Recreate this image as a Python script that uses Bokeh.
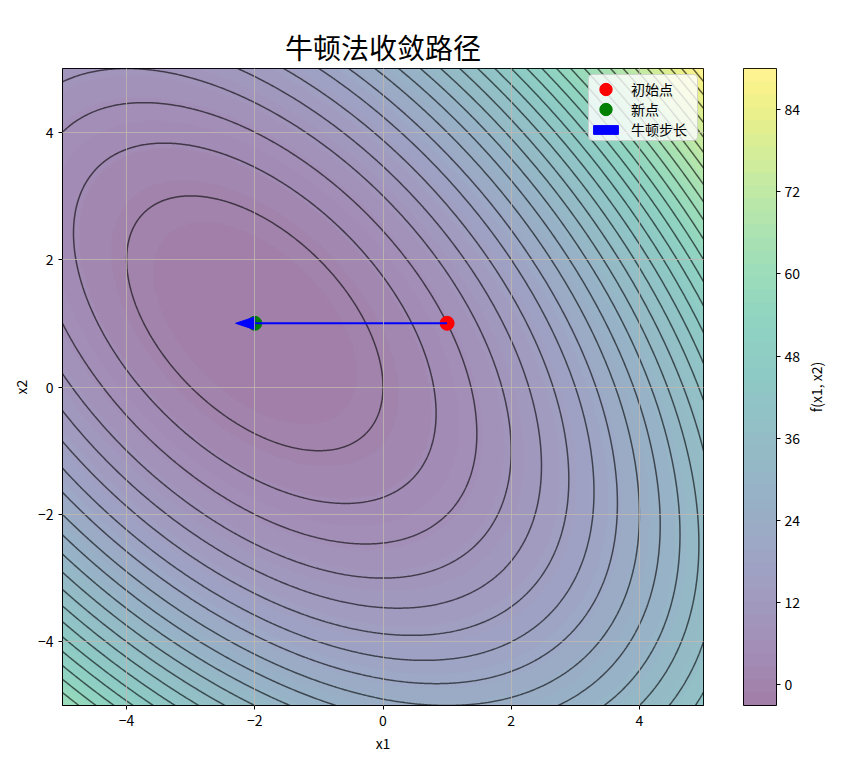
import numpy as np
from bokeh.plotting import figure
from bokeh.models import (Legend, LegendItem, FixedTicker, Range1d, BoxAnnotation,
                          LinearColorMapper, Title)
from bokeh.layouts import row
from bokeh.embed import file_html
from bokeh.resources import INLINE
from bokeh.palettes import Viridis256

FONT = "Noto Sans CJK SC"

# f(x1, x2) = a*x1^2 + b*x1*x2 + c*x2^2 + d*x1 + e*x2
quad_coefs = [1.0, 1.0, 1.0, 3.0, 0.0]
domain = [-5.0, 5.0]
initial_point = [1.0, 1.0]
new_point = [-2.0, 1.0]
fill_levels = np.linspace(-3.0, 90.0, 50)
line_levels = np.arange(0.0, 91.0, 3.0)
axis_ticks = [-4, -2, 0, 2, 4]
axis_tick_labels = ["−4", "−2", "0", "2", "4"]
cbar_ticks = [0, 12, 24, 36, 48, 60, 72, 84]
legend_labels = ["初始点", "新点", "牛顿步长"]
title_text = "牛顿法收敛路径"
x_label, y_label, cbar_label = "x1", "x2", "f(x1, x2)"

# surface
n = 500
gx = np.linspace(domain[0], domain[1], n)
gy = np.linspace(domain[0], domain[1], n)
X, Y = np.meshgrid(gx, gy)
a, b, c, d, e = quad_coefs
Z = a * X**2 + b * X * Y + c * Y**2 + d * X + e * Y

mids = (fill_levels[:-1] + fill_levels[1:]) / 2
tt = (mids - mids.min()) / (mids.max() - mids.min())
band_colors = [Viridis256[int(round(v * 255))] for v in tt]
mapper = LinearColorMapper(palette=band_colors, low=fill_levels[0], high=fill_levels[-1])

FW, FH = 641, 637
TOP, BOTTOM = 68, 48
p = figure(frame_width=FW, frame_height=FH,
           x_range=Range1d(domain[0], domain[1]), y_range=Range1d(domain[0], domain[1]),
           output_backend="svg", toolbar_location=None,
           min_border_left=62, min_border_right=17, min_border_top=TOP, min_border_bottom=BOTTOM,
           title=title_text)
p.title.align = "center"
p.title.text_font = FONT
p.title.text_font_size = "28px"
p.title.text_font_style = "normal"
p.title.text_color = "black"
p.title.standoff = 4

p.image(image=[Z], x=domain[0], y=domain[0], dw=domain[1] - domain[0], dh=domain[1] - domain[0],
        color_mapper=mapper, global_alpha=0.5)
p.contour(gx, gy, Z, line_levels, line_color="black", line_alpha=0.6, line_width=1.5)

r_init = p.scatter(x=[initial_point[0]], y=[initial_point[1]], size=14, color="red")
r_new = p.scatter(x=[new_point[0]], y=[new_point[1]], size=14, color="green")

# Newton step arrow
head_w, head_l = 0.2, 0.3
dx = new_point[0] - initial_point[0]
dy = new_point[1] - initial_point[1]
L = np.hypot(dx, dy)
ux, uy = dx / L, dy / L
px_, py_ = -uy, ux
tip = (new_point[0] + ux * head_l, new_point[1] + uy * head_l)
p.segment(x0=[initial_point[0]], y0=[initial_point[1]], x1=[new_point[0]], y1=[new_point[1]],
          line_color="blue", line_width=2)
r_step = p.patch(x=[new_point[0] + px_ * head_w / 2, new_point[0] - px_ * head_w / 2, tip[0]],
                 y=[new_point[1] + py_ * head_w / 2, new_point[1] - py_ * head_w / 2, tip[1]],
                 fill_color="blue", line_color="blue", line_width=1)

# axes
for ax in (p.xaxis, p.yaxis):
    ax.ticker = FixedTicker(ticks=axis_ticks)
    ax.major_label_overrides = {t: s for t, s in zip(axis_ticks, axis_tick_labels)}
    ax.major_label_text_font = FONT
    ax.major_label_text_font_size = "14px"
    ax.major_label_text_color = "black"
    ax.axis_label_text_font = FONT
    ax.axis_label_text_font_size = "14px"
    ax.axis_label_text_font_style = "normal"
    ax.axis_label_text_color = "black"
    ax.major_tick_in = 0
    ax.major_tick_out = 4
    ax.minor_tick_line_color = None
    ax.axis_line_color = "black"
    ax.major_tick_line_color = "black"
    ax.axis_label_standoff = 4
p.xaxis.axis_label = x_label
p.yaxis.axis_label = y_label
p.outline_line_color = "black"
p.outline_line_alpha = 1
p.grid.level = "guide"
p.grid.grid_line_color = "#c0b8b0"
p.grid.grid_line_alpha = 0.8
p.grid.grid_line_width = 1

# legend background box (positioned from pixel offsets inside frame)
sx = (domain[1] - domain[0]) / FW
sy = (domain[1] - domain[0]) / FH
box = BoxAnnotation(left=domain[1] - 115 * sx, right=domain[1] - 6 * sx,
                    top=domain[1] - 6 * sy, bottom=domain[1] - 72 * sy,
                    fill_color="white", fill_alpha=0.8,
                    line_color="#cccccc", line_alpha=0.8, line_width=1, border_radius=4)
p.add_layout(box)

common = dict(padding=0, margin=0, label_standoff=10, background_fill_alpha=0,
              border_line_color=None, label_text_font=FONT, label_text_font_size="14px",
              label_text_color="black", glyph_width=31)
leg1 = Legend(items=[LegendItem(label=legend_labels[0], renderers=[r_init])],
              location=(528, 598), glyph_height=36, **common)
leg2 = Legend(items=[LegendItem(label=legend_labels[1], renderers=[r_new])],
              location=(528, 578), glyph_height=36, **common)
leg3 = Legend(items=[LegendItem(label=legend_labels[2], renderers=[r_step])],
              location=(528, 566), glyph_height=11, label_height=11, **common)
for lg in (leg1, leg2, leg3):
    p.add_layout(lg)

# colorbar
cb = figure(frame_width=33, frame_height=FH, x_range=Range1d(0, 1),
            y_range=Range1d(fill_levels[0], fill_levels[-1]),
            output_backend="svg", toolbar_location=None, y_axis_location="right",
            min_border_left=23, min_border_right=24, min_border_top=TOP, min_border_bottom=BOTTOM)
cb.image(image=[mids.reshape(-1, 1)], x=0, y=fill_levels[0], dw=1,
         dh=fill_levels[-1] - fill_levels[0], color_mapper=mapper, global_alpha=0.5)
cb.xaxis.visible = False
cb.grid.visible = False
cb.outline_line_color = "black"
cb.outline_line_alpha = 1
ya = cb.yaxis[0]
ya.ticker = FixedTicker(ticks=cbar_ticks)
ya.major_label_text_font = FONT
ya.major_label_text_font_size = "14px"
ya.major_label_text_color = "black"
ya.major_label_standoff = 4
ya.major_tick_in = 0
ya.major_tick_out = 4
ya.minor_tick_line_color = None
ya.axis_line_color = None
ya.major_tick_line_color = "black"

# colorbar label: vertical text reading bottom-to-top
lab = figure(frame_width=2, frame_height=FH, x_range=Range1d(0, 1), y_range=Range1d(0, 1),
             output_backend="svg", toolbar_location=None,
             min_border_left=0, min_border_right=0, min_border_top=TOP, min_border_bottom=BOTTOM)
lab.axis.visible = False
lab.grid.visible = False
lab.outline_line_color = None
lab.add_layout(Title(text=cbar_label, align="center", text_font=FONT, text_font_size="14px",
                     text_font_style="normal", text_color="black", standoff=0, offset=0), "left")

layout = row(p, cb, lab)
open("out.html", "w").write(file_html(layout, INLINE))
